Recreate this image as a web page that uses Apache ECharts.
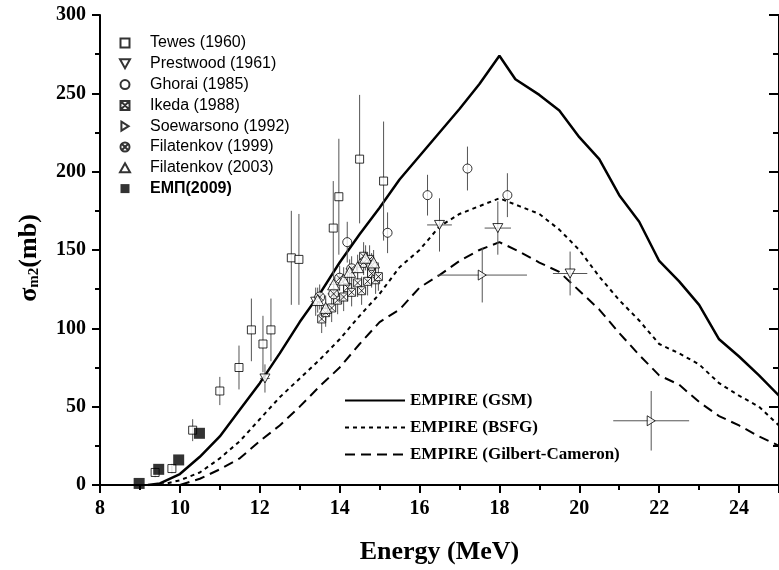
<!DOCTYPE html>
<html><head><meta charset="utf-8">
<script src="https://cdn.jsdelivr.net/npm/echarts@6/dist/echarts.min.js"></script>
<style>html,body{margin:0;padding:0;background:#fff}#c{width:779px;height:570px}</style>
</head><body><div id="c"></div>
<script>
// ---- data: [E (MeV), sigma (mb), dE, dSigma] ----
const tewes = [[9.38,8,0,3],[9.8,10.5,0,3],[10.32,35,0,7],[11.0,60,0,9],[11.48,75,0,14],[11.79,99,0,20],[12.08,90,0,18],[12.28,99,0,20],[12.79,145,0,30],[12.98,144,0,29],[13.84,164,0,30],[13.98,184,0,37],[14.5,208,0,41],[15.1,194,0,38]];
const prestwood = [[12.13,68,0.12,9],[13.4,117,0.12,9],[16.5,166,0.31,17],[17.96,164,0.33,17],[19.77,135,0.43,14]];
const ghorai = [[14.19,155,0,13],[15.2,161,0,13],[16.2,185,0,13],[17.2,202,0,14],[18.2,185,0,14]];
const ikeda = [[13.55,106,0,9],[13.65,110,0,9],[13.8,113,0,9],[13.95,118,0,9],[14.1,120,0,9],[14.2,126,0,9],[14.3,123,0,9],[14.45,129,0,9],[14.55,124,0,9],[14.7,130,0,9],[14.8,135,0,9],[14.9,131,0,9],[14.97,133,0,9],[14.6,146,0,9],[14.75,144,0,9]];
const soewarsono = [[17.57,134,1.12,17.5],[21.8,41,0.95,19]];
const filatenkov1999 = [[13.5,120,0.15,8],[13.85,122,0.15,8],[14.0,132,0.15,8],[14.3,138,0.15,8],[14.6,142,0.15,8],[14.8,140,0.15,8]];
const filatenkov2003 = [[13.45,118,0.1,8],[13.65,113,0.1,8],[13.85,128,0.1,8],[14.1,131,0.1,8],[14.25,136,0.1,8],[14.45,139,0.1,8],[14.65,145,0.1,8],[14.85,142,0.1,8]];
const emp2009 = [[8.98,1],[9.47,10],[9.97,16],[10.49,33]];

const gsm = [[9.2,0],[9.5,1],[10,7],[10.5,18],[11,31],[11.5,48],[12,65],[12.5,84],[13,104],[13.5,122],[14,142],[14.5,160],[15,177],[15.5,195],[16,210],[16.5,225],[17,240],[17.5,256],[18,274],[18.4,259],[19,249],[19.5,239],[20,222],[20.5,208],[21,185],[21.5,168],[22,143],[22.5,130],[23,115],[23.5,93],[24,82],[24.5,70],[25,57]];
const bsfg = [[9.5,0],[10,3],[10.5,8],[11,17],[11.5,28],[12,42],[12.5,56],[13,68],[13.5,80],[14,93],[14.5,108],[15,122],[15.5,139],[16,150],[16.5,165],[17,173],[17.5,178],[18,183],[18.5,178],[19,173],[19.5,163],[20,150],[20.5,133],[21,118],[21.5,105],[22,90],[22.5,84],[23,77],[23.5,65],[24,57],[24.5,50],[25,38]];
const gilbert = [[10,0],[10.5,4],[11,10],[11.5,17],[12,28],[12.5,38],[13,50],[13.5,63],[14,75],[14.5,90],[15,104],[15.5,112],[16,126],[16.5,134],[17,143],[17.5,150],[18,155],[18.5,149],[19,142],[19.5,136],[20,124],[20.5,112],[21,97],[21.5,83],[22,70],[22.5,64],[23,53],[23.5,44],[24,38],[24.5,31],[25,25]];

const xTicks = [8,10,12,14,16,18,20,22,24];
const yTicks = [0,50,100,150,200,250,300];

const names = ['Tewes (1960)','Prestwood (1961)','Ghorai (1985)','Ikeda (1988)','Soewarsono (1992)','Filatenkov (1999)','Filatenkov (2003)','ЕМП(2009)'];
const lineNames = ['EMPIRE (GSM)','EMPIRE (BSFG)','EMPIRE (Gilbert-Cameron)'];

const SERIF = '"Liberation Serif","Times New Roman",serif';
const SANS = '"Liberation Sans",Arial,sans-serif';

const errData = [];
[tewes,prestwood,ghorai,ikeda,soewarsono,filatenkov1999,filatenkov2003].forEach(arr=>{
  arr.forEach(p=>errData.push([p[0],p[1],p[0]-p[2],p[0]+p[2],p[1]-p[3],p[1]+p[3]]));
});

function errRender(params, api){
  const x=api.value(0), y=api.value(1), xl=api.value(2), xh=api.value(3), yl=api.value(4), yh=api.value(5);
  const ch=[];
  const st={stroke:'#555',lineWidth:1};
  if(yh>yl){const a=api.coord([x,yl]),b=api.coord([x,yh]);ch.push({type:'line',shape:{x1:a[0],y1:a[1],x2:b[0],y2:b[1]},style:st});}
  if(xh>xl){const a=api.coord([xl,y]),b=api.coord([xh,y]);ch.push({type:'line',shape:{x1:a[0],y1:a[1],x2:b[0],y2:b[1]},style:st});}
  return {type:'group',children:ch};
}

const hollow = {color:'#fff',borderColor:'#000',borderWidth:1};
const sq = 'path://M0 0 L10 0 L10 10 L0 10 Z';
const boxX = 'path://M0 0 L10 0 L10 10 L0 10 Z M1 1 L9 9 M9 1 L1 9';
const circX = 'path://M0 5 A5 5 0 1 0 10 5 A5 5 0 1 0 0 5 Z M1.6 1.6 L8.4 8.4 M8.4 1.6 L1.6 8.4';
const downTri = 'path://M0 0 L10 0 L5 9 Z';
const rightTri = 'path://M0 0 L8 5 L0 10 Z';
const upTri = 'path://M5 0 L10 9 L0 9 Z';

function sc(name, arr, symbol, size, style){
  return {name, type:'scatter', data:arr.map(p=>[p[0],p[1]]), symbol, symbolSize:size, symbolKeepAspect:true, itemStyle:style||hollow, z:5, emphasis:{disabled:true}};
}
function ln(name, arr, type, width){
  return {name, type:'line', data:arr, symbol:'none', showSymbol:false, lineStyle:{color:'#000',width,type}, itemStyle:{color:'#000'}, z:3, emphasis:{disabled:true}};
}

const option = {
  animation:false,
  backgroundColor:'#fff',
  grid:{left:97,right:-8,top:15,bottom:85,containLabel:false},
  xAxis:{type:'value',min:8,max:25,interval:2,
    name:'Energy (MeV)',nameLocation:'middle',nameGap:54,
    nameTextStyle:{fontFamily:SERIF,fontWeight:'bold',fontSize:26,color:'#000'},
    axisLine:{show:true,onZero:false,lineStyle:{color:'#000',width:2}},
    axisTick:{show:true,inside:false,length:8,lineStyle:{color:'#000',width:2}},
    minorTick:{show:true,splitNumber:2,length:5,lineStyle:{color:'#000',width:2}},
    splitLine:{show:false},
    axisLabel:{margin:14,showMaxLabel:false,fontFamily:SERIF,fontWeight:'bold',fontSize:20,color:'#000',
      formatter:v=>xTicks.indexOf(v)>=0?String(v):''}
  },
  yAxis:[{type:'value',min:0,max:300,interval:50,
    name:'{s|σ}{sub|m2}{s|(mb)}',nameLocation:'middle',nameGap:58,
    nameTextStyle:{color:'#000',padding:[0,16,0,0],rich:{
      s:{fontFamily:SERIF,fontWeight:'bold',fontSize:26,color:'#000',lineHeight:26,verticalAlign:'middle'},
      sub:{fontFamily:SERIF,fontWeight:'bold',fontSize:15,color:'#000',lineHeight:15,verticalAlign:'bottom',padding:[19,0,0,0]}
    }},
    axisLine:{show:true,lineStyle:{color:'#000',width:2}},
    axisTick:{show:true,inside:false,length:8,lineStyle:{color:'#000',width:2}},
    minorTick:{show:true,splitNumber:2,length:5,lineStyle:{color:'#000',width:2}},
    splitLine:{show:false},
    axisLabel:{margin:14,fontFamily:SERIF,fontWeight:'bold',fontSize:20,color:'#000',
      formatter:v=>yTicks.indexOf(v)>=0?String(v):''}
  },{type:'value',min:0,max:300,interval:50,position:'right',
    axisLine:{show:true,lineStyle:{color:'#000',width:2}},
    axisTick:{show:true,inside:true,length:10,lineStyle:{color:'#000',width:2}},
    minorTick:{show:true,splitNumber:2,length:6,lineStyle:{color:'#000',width:2}},
    splitLine:{show:false},axisLabel:{show:false}
  }],
  legend:[{
    orient:'vertical',left:114,top:29,itemWidth:40,itemHeight:9,itemGap:2.8,
    textStyle:{fontFamily:SANS,fontSize:16,color:'#000',lineHeight:18},
    selectedMode:false,
    data:names.map((n,i)=>i===7?{name:n,textStyle:{fontWeight:'bold'},itemStyle:{color:'#000'}}:{name:n})
  },{
    orient:'vertical',left:339,top:386,itemWidth:60,itemHeight:10,itemGap:8,
    textStyle:{fontFamily:SERIF,fontWeight:'bold',fontSize:17,color:'#000',lineHeight:19},
    itemStyle:{color:'rgba(0,0,0,0)',borderColor:'rgba(0,0,0,0)',borderWidth:0,opacity:0},
    selectedMode:false,
    data:lineNames
  }],
  series:[
    ln(lineNames[0],gsm,'solid',2.5),
    ln(lineNames[1],bsfg,[4,4],2),
    ln(lineNames[2],gilbert,[10,6],2),
    {type:'custom',name:'err',data:errData,renderItem:errRender,encode:{x:0,y:1},z:4,silent:true},
    sc(names[0],tewes,sq,8),
    sc(names[1],prestwood,downTri,10),
    sc(names[2],ghorai,'circle',9),
    sc(names[3],ikeda,boxX,8),
    sc(names[4],soewarsono,rightTri,10),
    sc(names[5],filatenkov1999,circX,10),
    sc(names[6],filatenkov2003,upTri,12),
    sc(names[7],emp2009,sq,11,{color:'#000',borderColor:'#000',borderWidth:0})
  ]
};
const chart = echarts.init(document.getElementById('c'),null,{renderer:'canvas'});
chart.setOption(option);
</script>
</body></html>
